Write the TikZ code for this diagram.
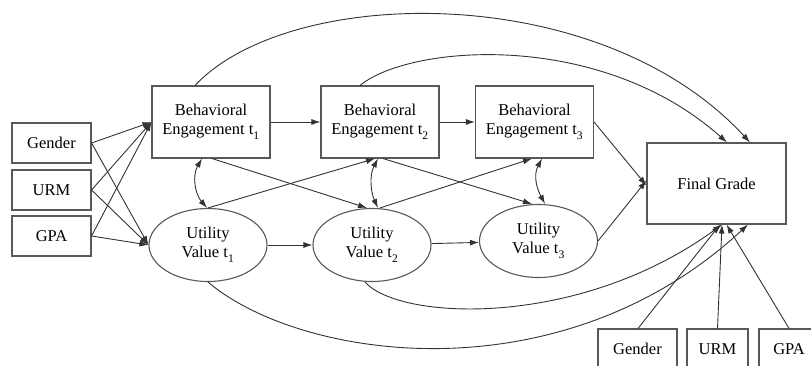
\documentclass[tikz,border=0pt]{standalone}
\usepackage{fontspec}
\setmainfont{Liberation Serif}
\usetikzlibrary{arrows.meta,shapes.geometric}
\newcommand{\tsub}[1]{\raisebox{-0.15em}{\textsubscript{#1}}}
\tikzset{
  >={Latex[length=9pt,width=6pt]},
  obs/.style={draw=black!65,line width=1.1pt,rectangle,inner sep=0pt,font=\fontsize{16.5}{19}\selectfont,align=center},
  lat/.style={draw=black!65,line width=1.1pt,ellipse,inner sep=0pt,minimum width=118pt,minimum height=73pt,font=\fontsize{16.5}{19}\selectfont,align=center},
  conn/.style={black!80,line width=0.9pt},
}
\begin{document}
\begin{tikzpicture}[x=1pt,y=-1pt]
\useasboundingbox (0,0) rectangle (811,366);
\clip (0,0) rectangle (811,366);

% covariates
\node[obs,minimum width=79pt,minimum height=40pt] at (51.5,143) (gen) {Gender};
\node[obs,minimum width=79pt,minimum height=40pt] at (51.5,190) (urm) {URM};
\node[obs,minimum width=79pt,minimum height=40pt] at (51.5,236) (gpa) {GPA};

% engagement
\node[obs,minimum width=118pt,minimum height=72pt] at (211,122) (BE1) {Behavioral\\Engagement t\tsub{1}};
\node[obs,minimum width=118pt,minimum height=72pt] at (380,122) (BE2) {Behavioral\\Engagement t\tsub{2}};
\node[obs,minimum width=118pt,minimum height=72pt] at (534.5,122) (BE3) {Behavioral\\Engagement t\tsub{3}};

% utility value
\node[lat] at (208,245) (UV1) {Utility\\Value t\tsub{1}};
\node[lat] at (372,245) (UV2) {Utility\\Value t\tsub{2}};
\node[lat] at (538.5,241) (UV3) {Utility\\Value t\tsub{3}};

\node[obs,minimum width=139pt,minimum height=81pt] at (716.5,183.5) (FG) {Final Grade};

\node[obs,minimum width=79pt,minimum height=40pt] at (637.5,349) (gen2) {Gender};
\node[obs,minimum width=61pt,minimum height=40pt] at (717.5,349) (urm2) {URM};
\node[obs,minimum width=60pt,minimum height=40pt] at (789,349) (gpa2) {GPA};

\begin{scope}[conn]
\foreach \c in {gen,urm,gpa}{
  \draw[->] (\c.east) -- (BE1.west);
  \draw[->] (\c.east) -- (UV1.west);
}

\draw[->] (BE1) edge (BE2) (BE2) edge (BE3);
\draw[->] (UV1) edge (UV2) (UV2) edge (UV3);

% cross-lagged
\draw[->] ([xshift=1pt]BE1.south) -- ([xshift=-5pt]UV2.north);
\draw[->] (UV1.north) -- ([xshift=-5pt]BE2.south);
\draw[->] ([xshift=3pt]BE2.south) -- ([xshift=-6.5pt]UV3.north);
\draw[->] ([xshift=8pt]UV2.north) -- ([xshift=-2.5pt]BE3.south);

% covariances
\draw[<->] ([xshift=-9pt]BE1.south) .. controls +(-10,17) and +(-12,-14) .. ([xshift=-1pt]UV1.north);
\draw[<->] ([xshift=-2pt]BE2.south) .. controls +(-9,17) and +(-7,-15) .. ([xshift=6pt]UV2.north);
\draw[<->] ([xshift=7.5pt]BE3.south) .. controls +(-9,17) and +(-8,-15) .. ([xshift=6.5pt]UV3.north);

% paths to final grade
\draw[->] ([xshift=-16pt]BE1.north) .. controls +(95,-101) and +(-150,-163) .. ([xshift=33.5pt]FG.north);
\draw[->] ([xshift=-20pt]BE2.north) .. controls +(50,-41) and +(-127,-113) .. ([xshift=10.5pt]FG.north);
\draw[->] (BE3.east) -- ([yshift=-2pt]FG.west);
\draw[->] (UV3.east) -- ([yshift=3pt]FG.west);
\draw[->] (UV1.south) .. controls +(92,78) and +(-188,174) .. ([xshift=31.5pt]FG.south);
\draw[->] ([xshift=-7pt]UV2.south) .. controls +(35,39) and +(-142,104) .. ([xshift=5.5pt]FG.south);

\draw[->] ([xshift=0.5pt]gen2.north) -- ([xshift=3.5pt]FG.south);
\draw[->] (urm2.north) -- ([xshift=5.5pt]FG.south);
\draw[->] (gpa2.north) -- ([xshift=10pt]FG.south);
\end{scope}
\end{tikzpicture}
\end{document}
